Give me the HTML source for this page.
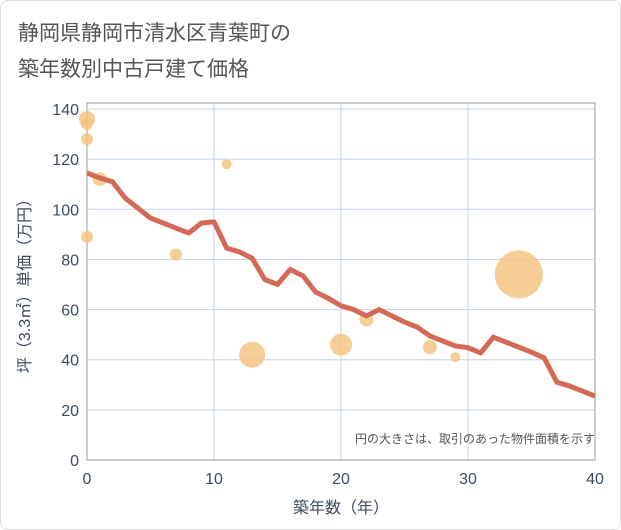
<!DOCTYPE html>
<html><head><meta charset="utf-8"><style>
body{margin:0;background:#fff;font-family:"Liberation Sans","Noto Sans CJK JP",sans-serif;}
#wrap{position:relative;width:619px;height:528px;border:1px solid #ddd;border-radius:8px;overflow:hidden;background:#fff}
</style></head><body>
<div id="wrap">
<svg id="chart" width="621" height="530" style="position:absolute;left:-1px;top:-1px">
<text x="18" y="40" font-size="21" fill="#555">静岡県静岡市清水区青葉町の</text>
<text x="18" y="76" font-size="21" fill="#555">築年数別中古戸建て価格</text>
<g id="grid"></g><g id="bubbles"></g><g id="line"></g><g id="axes"></g>
<text x="595" y="443" font-size="12" fill="#555" text-anchor="end">円の大きさは、取引のあった物件面積を示す</text>
<text x="341" y="513" font-size="16" fill="#3d4b5c" text-anchor="middle">築年数（年）</text>
<text transform="translate(30,282) rotate(-90)" font-size="16" fill="#3d4b5c" text-anchor="middle">坪（3.3㎡）単価（万円）</text>
</svg>
</div>
<script>
const lineYears=[0,1,2,3,4,5,6,7,8,9,10,11,12,13,14,15,16,17,18,19,20,21,22,23,24,25,26,27,28,29,30,31,32,33,34,35,36,37,38,39,40];
const lineValues=[114.5,112.5,111,104.5,100.5,96.5,94.5,92.5,90.5,94.5,95,84.5,83,80.5,72,70,76,73.5,67,64.5,61.5,60,57.5,60,57.5,55,53,49.5,47.5,45.5,44.8,42.7,49,47,45,43,40.7,31,29.5,27.5,25.5];
const bubbleYears=[0,0,0,0,1,7,11,13,20,22,27,29,34];
const bubbleValues=[136,134,128,89,112,82,118,42,46,56,45,41,74];
const bubbleSizes=[8,6,6,6,7,6,5,13,11,7,7,5,24];
const xTicks=[0,10,20,30,40];
const yTicks=[0,20,40,60,80,100,120,140];
const NS="http://www.w3.org/2000/svg";
const X0=87,X1=595,Y0=460,Y1=109;
const sx=v=>X0+(X1-X0)*v/40, sy=v=>Y0-(Y0-Y1)*v/140;
function mk(tag,attrs,parent){const e=document.createElementNS(NS,tag);for(const k in attrs)e.setAttribute(k,attrs[k]);document.getElementById(parent).appendChild(e);return e;}
const plotTop=103;
mk('rect',{x:X0,y:plotTop,width:X1-X0,height:Y0-plotTop,fill:'none',stroke:'#999','stroke-width':1},'grid');
for(const t of yTicks){if(t>0){const l=mk('line',{x1:X0,x2:X1,y1:sy(t),y2:sy(t),stroke:'#c5d3e2','stroke-width':1},'grid');

}
const tx=mk('text',{x:X0-8,y:sy(t)+6,'font-size':16,fill:'#3d4b5c','text-anchor':'end'},'axes');tx.textContent=t;

}
for(const t of xTicks){if(t>0&&t<40){const l=mk('line',{x1:sx(t),x2:sx(t),y1:plotTop,y2:Y0,stroke:'#c5d3e2','stroke-width':1},'grid');

}
const tx=mk('text',{x:sx(t),y:Y0+24,'font-size':16,fill:'#3d4b5c','text-anchor':'middle'},'axes');tx.textContent=t;

}
mk('line',{x1:X0,x2:X1,y1:Y0,y2:Y0,stroke:'#999'},'axes');
bubbleYears.forEach((yr,i)=>{const c=mk('circle',{cx:sx(yr),cy:sy(bubbleValues[i]),r:bubbleSizes[i],fill:'#f4c27a','fill-opacity':0.8},'bubbles');

});
const p=mk('polyline',{points:lineYears.map((yr,i)=>sx(yr)+','+sy(lineValues[i])).join(' '),fill:'none',stroke:'#d46a55','stroke-width':5,'stroke-linejoin':'round'},'line');


</script>
</body></html>
